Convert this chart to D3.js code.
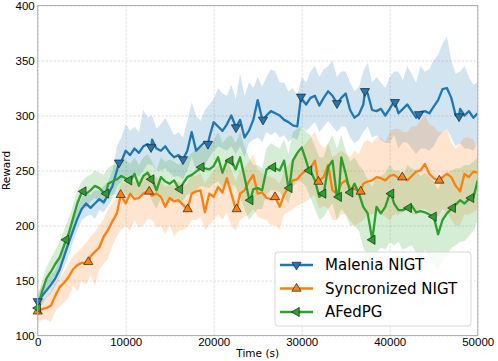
<!DOCTYPE html>
<html>
<head>
<meta charset="UTF-8">
<style>
  body { margin: 0; background: #fff; }
  svg { display: block; font-family: "DejaVu Sans", sans-serif; }
  .grid line { stroke: #d0d0d0; stroke-dasharray: 2,2; stroke-width: 0.8px; }
  .grid path { display: none; }
  .axis path, .axis line { display: none; }
  .axis text { font-size: 11.5px; fill: #000; }
</style>
</head>
<body>
<svg></svg>
<script src="https://d3js.org/d3.v7.min.js"></script>
<script>

// ---- data ----
let seriesNames = ["Malenia NIGT", "Syncronized NIGT", "AFedPG"];
let colors = ["#1f77b4", "#ff7f0e", "#2ca02c"];
let xTicks = [0, 10000, 20000, 30000, 40000, 50000];
let yTicks = [100, 150, 200, 250, 300, 350, 400];

// one value every 500 s
let times = d3.range(0, 50001, 500);

let malenia = [130,136,141,146,152,160,172,184,195,206,215,220,216,220,224,221,228,236,250,258,
  268,264,270,266,272,274,278,270,268,272,266,262,264,260,268,285,268,272,276,280,
  294,290,286,292,300,290,296,280,286,296,314,297,300,304,302,300,296,294,291,290,
  315,310,316,318,309,316,322,318,311,316,320,305,298,301,310,320,305,304,306,300,
  306,313,302,306,310,304,298,303,304,302,308,314,324,325,316,300,306,300,304,298,302];
let syncron = [122,124,125,127,136,144,148,153,160,164,166,166,172,176,180,190,196,204,211,227,
  220,229,224,225,229,231,227,229,226,217,225,222,223,219,215,229,231,232,212,229,
  226,235,230,243,229,215,229,232,240,246,229,230,225,224,226,217,228,235,241,242,
  247,250,252,259,241,244,255,232,229,238,241,234,233,232,238,240,241,244,243,241,
  245,246,243,244,241,245,249,250,256,247,243,241,244,247,244,236,231,247,244,249,248];
let afedpg = [126,140,152,158,165,171,182,192,206,220,230,229,232,236,234,230,238,240,242,245,
  243,240,247,236,245,248,242,232,244,240,238,241,234,238,244,246,249,252,252,251,
  254,262,248,259,259,251,262,244,225,233,234,232,251,253,252,250,259,234,259,266,
  271,259,250,241,226,229,253,259,226,262,247,230,238,229,217,211,188,217,211,217,
  229,220,214,214,216,218,212,213,212,210,208,192,205,211,215,219,223,220,224,225,241];

// shaded bands (lower / upper edge)
let maleniaLo = [125,128,134,138,145,152,162,172,185,196,205,208,210,206,214,212,218,225,235,240,
  245,240,248,244,250,256,255,250,250,252,248,244,245,242,250,262,250,256,255,262,
  268,272,270,268,272,265,272,262,275,278,280,276,285,282,285,280,282,276,280,278,
  290,286,290,294,285,290,295,290,285,290,290,280,275,278,285,290,280,282,278,275,
  275,282,270,276,275,270,265,270,270,268,272,280,285,288,280,272,275,270,270,268,275];
let maleniaHi = [138,145,150,155,160,170,182,195,205,216,225,230,228,232,232,236,240,250,272,280,
  292,286,290,285,305,298,300,288,292,298,290,282,285,280,295,312,300,295,305,310,
  315,325,320,318,328,315,338,318,330,325,335,326,335,342,340,330,330,322,325,318,
  335,330,340,345,335,342,345,350,335,340,340,330,322,326,340,348,330,335,330,325,
  335,340,340,332,345,338,330,345,340,342,350,355,365,372,350,338,340,345,335,328,330];
let syncronLo = [112,114,115,112,122,126,130,134,145,140,150,146,155,145,160,165,170,182,190,196,
  200,195,205,198,200,206,205,198,200,192,200,190,195,196,198,205,205,208,196,200,
  205,210,205,212,200,195,205,208,210,215,208,206,205,200,200,196,210,212,215,218,
  220,222,225,228,215,218,215,205,205,210,210,205,200,202,205,210,210,212,210,208,
  205,210,210,212,215,210,210,215,215,212,210,208,215,212,205,200,200,210,210,212,215];
let syncronHi = [130,132,135,140,148,152,158,165,172,176,180,184,190,194,200,206,215,220,228,240,
  238,245,240,242,245,250,245,244,240,235,238,236,240,236,238,246,245,248,238,245,
  250,255,252,262,250,240,250,252,258,265,250,248,245,244,242,238,250,255,260,265,
  270,275,280,285,275,270,275,262,265,268,265,262,268,265,275,278,275,280,280,276,
  285,288,288,285,285,290,290,295,300,292,290,285,285,288,275,270,275,280,280,278,270];
let afedpgLo = [118,130,142,148,155,160,172,180,195,206,218,216,222,225,222,218,226,228,228,232,
  228,226,228,222,230,232,222,215,225,222,220,224,220,222,228,230,232,236,235,234,
  238,240,235,238,238,235,225,215,205,210,215,215,228,232,232,230,225,220,235,240,
  240,235,225,215,205,208,215,220,205,215,210,200,200,195,180,172,165,175,180,178,
  185,182,185,178,180,182,175,170,178,170,165,160,168,172,180,182,185,186,190,195,205];
let afedpgHi = [134,150,162,170,178,186,196,206,218,232,240,244,246,250,248,246,252,255,255,260,
  260,256,262,255,262,265,258,250,262,258,260,258,255,258,262,266,270,272,272,270,
  278,285,275,280,282,275,285,272,262,255,255,252,270,275,272,270,278,265,285,288,
  290,285,282,272,262,262,275,282,270,282,268,258,262,255,250,242,235,245,245,248,
  255,250,250,245,255,252,250,245,248,245,240,232,245,248,250,252,252,255,255,258,262];

// marker points [time, reward]
let maleniaMarks = [[0,131],[9240,257],[12880,271],[16510,260],[19350,274],[22530,289],[25600,296],
  [29920,317],[34010,311],[37190,322],[40600,312],[43330,301],[47880,299]];
let syncronMarks = [[0,122],[5750,167],[9430,228],[12670,231],[17045,215],[22610,215],[26970,226],
  [31900,240],[36700,231],[41430,244],[45640,241]];
let afedpgMarks = [[0,125],[3216,187],[5180,231],[7760,229],[10375,241],[12900,242],[16150,233],
  [18590,253],[21870,259],[24150,223],[26720,253],[28590,234],[30830,250],[32430,229],[34200,226],
  [35500,230],[38020,187],[40150,229],[42150,216],[44980,208],[47160,216],[49240,225]];

let means = [malenia, syncron, afedpg];
let lows = [maleniaLo, syncronLo, afedpgLo];
let highs = [maleniaHi, syncronHi, afedpgHi];
let marks = [maleniaMarks, syncronMarks, afedpgMarks];
let shapes = ["down", "up", "left"];

// ---- layout ----
let width = 498, height = 361;
let svg = d3.select("svg").attr("width", width).attr("height", height);

let x = d3.scaleLinear().domain([0, 50000]).range([37.7, 477.7]);
let y = d3.scaleLinear().domain([100, 400]).range([335.5, 5.5]);

svg.append("defs").append("clipPath").attr("id", "plotClip")
  .append("rect")
  .attr("x", x(0)).attr("y", y(400))
  .attr("width", x(50000) - x(0)).attr("height", y(100) - y(400));

// grid
svg.append("g").attr("class", "grid")
  .attr("transform", "translate(0," + y(100) + ")")
  .call(d3.axisBottom(x).tickValues(xTicks).tickSize(-(y(100) - y(400))).tickFormat(""));
svg.append("g").attr("class", "grid")
  .attr("transform", "translate(" + x(0) + ",0)")
  .call(d3.axisLeft(y).tickValues(yTicks).tickSize(-(x(50000) - x(0))).tickFormat(""));

let plot = svg.append("g").attr("clip-path", "url(#plotClip)");

// bands
means.forEach((m, i) => {
  let band = times.map((t, j) => ({ t: t, lo: lows[i][j], hi: highs[i][j] }));
  plot.append("path")
    .datum(band)
    .attr("fill", colors[i])
    .attr("fill-opacity", 0.2)
    .attr("d", d3.area().x(d => x(d.t)).y0(d => y(d.lo)).y1(d => y(d.hi)));
});

function triangle(kind, r) {
  if (kind == "down") return `M${-r},${-r * 0.6}L${r},${-r * 0.6}L0,${r * 1.1}Z`;
  if (kind == "up") return `M${-r},${r * 0.6}L${r},${r * 0.6}L0,${-r * 1.1}Z`;
  return `M${r * 0.6},${-r}L${r * 0.6},${r}L${-r * 1.1},0Z`;
}

// lines + markers
means.forEach((m, i) => {
  let pts = times.map((t, j) => ({ t: t, v: m[j] }))
    .concat(marks[i].map(p => ({ t: p[0], v: p[1] })))
    .sort((a, b) => a.t - b.t);
  plot.append("path")
    .datum(pts)
    .attr("fill", "none")
    .attr("stroke", colors[i])
    .attr("stroke-width", 2.3)
    .attr("stroke-linejoin", "round")
    .attr("d", d3.line().x(d => x(d.t)).y(d => y(d.v)));
  svg.append("g").selectAll("path")
    .data(marks[i])
    .enter().append("path")
    .attr("transform", d => "translate(" + x(d[0]) + "," + y(d[1]) + ")")
    .attr("d", triangle(shapes[i], 4.6))
    .attr("fill", colors[i])
    .attr("stroke", "#222")
    .attr("stroke-width", 0.7);
});

// frame
svg.append("rect")
  .attr("x", x(0)).attr("y", y(400))
  .attr("width", x(50000) - x(0)).attr("height", y(100) - y(400))
  .attr("fill", "none").attr("stroke", "#b0b0b0").attr("stroke-width", 1);

// axes
svg.append("g").attr("class", "axis")
  .attr("transform", "translate(0," + y(100) + ")")
  .call(d3.axisBottom(x).tickValues(xTicks).tickSize(0).tickPadding(2).tickFormat(d3.format("d")));
svg.append("g").attr("class", "axis")
  .attr("transform", "translate(" + x(0) + ",0)")
  .call(d3.axisLeft(y).tickValues(yTicks).tickSize(0).tickPadding(3));

svg.append("text")
  .attr("x", (x(0) + x(50000)) / 2).attr("y", 356.5)
  .attr("text-anchor", "middle").style("font-size", "10.5px")
  .text("Time (s)");
svg.append("text")
  .attr("transform", "translate(10," + (y(100) + y(400)) / 2 + ") rotate(-90)")
  .attr("text-anchor", "middle").style("font-size", "10.5px")
  .text("Reward");

// legend
let legend = svg.append("g");
legend.append("rect")
  .attr("x", 275).attr("y", 252).attr("width", 196).attr("height", 74).attr("rx", 3)
  .attr("fill", "#fff").attr("fill-opacity", 0.8)
  .attr("stroke", "#d8d8d8").attr("stroke-width", 1);
seriesNames.forEach((name, i) => {
  let ly = 265 + i * 23.5;
  legend.append("line")
    .attr("x1", 280).attr("x2", 313).attr("y1", ly).attr("y2", ly)
    .attr("stroke", colors[i]).attr("stroke-width", 2.3);
  legend.append("path")
    .attr("transform", "translate(296.5," + ly + ")")
    .attr("d", triangle(shapes[i], 4.6))
    .attr("fill", colors[i]).attr("stroke", "#222").attr("stroke-width", 0.7);
  legend.append("text")
    .attr("x", 325).attr("y", ly).attr("dy", "0.35em")
    .style("font-size", "15px")
    .text(name);
});

</script>
</body>
</html>
